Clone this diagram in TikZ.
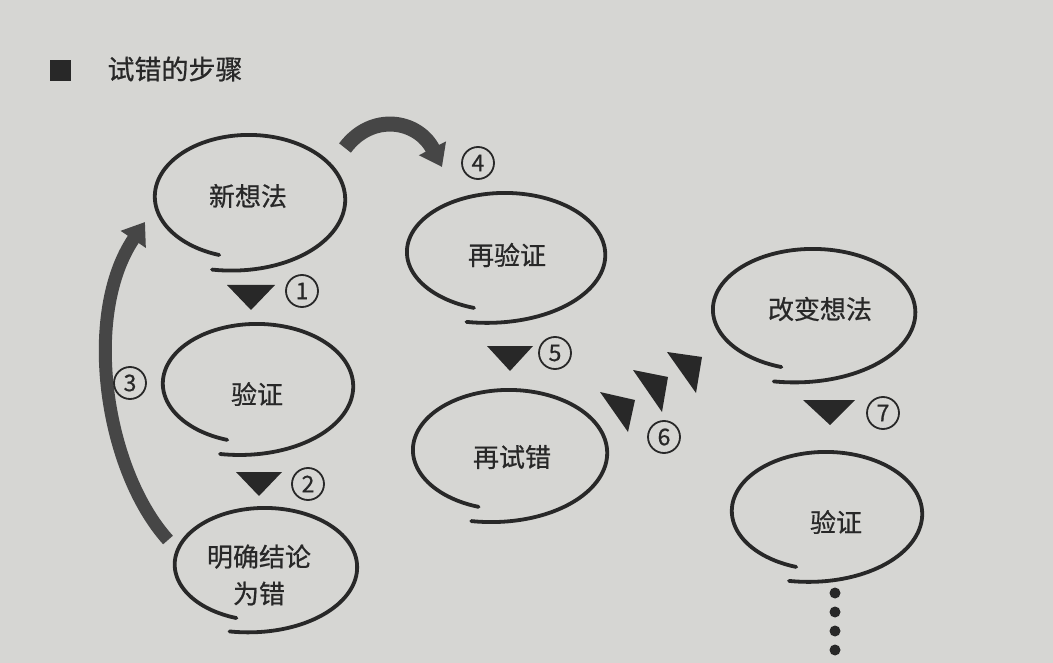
\documentclass[tikz,border=0pt]{standalone}
\usepackage{fontspec}
\setmainfont{Noto Sans CJK SC}
\newfontfamily\cjkheavy[FakeBold=0.7]{Noto Sans CJK SC}
\usepackage{tikz}
\usetikzlibrary{positioning,arrows.meta}

\definecolor{paper}{RGB}{214,214,211}
\definecolor{ink}{RGB}{40,40,40}
\definecolor{inkarrow}{RGB}{70,70,70}

% hand drawn loop: centre x, centre y, radius x, radius y
\newcommand{\loopring}[4]{%
    \draw[ring,shift={(#1,#2)}] plot[domain=0:360,samples=120,smooth,variable=\t]
    ({#3*(1+0.25*(\t/360)^5)*cos(108+\t)},{#4*(1+0.25*(\t/360)^5)*sin(108+\t)});%
}

\begin{document}
\begin{tikzpicture}[x=1pt,y=-1pt,
        ring/.style={ink,line width=3.8pt,line cap=round},
        txt/.style={text=ink,font=\cjkheavy\fontsize{26}{37}\selectfont,inner sep=0pt,align=center},
        num/.style={circle,draw=ink,line width=1.8pt,minimum size=32pt,inner sep=0pt,
            text=ink,font=\cjkheavy\fontsize{23}{23}\selectfont},
        wedge/.style={fill=ink},
        fat/.style={inkarrow,line width=#1,-{Triangle[width=29pt,length=21pt]}}
    ]
    \fill[paper] (0,0) rectangle (1053,663);
    \useasboundingbox (0,0) rectangle (1053,663);
    %
    % title
    \fill[ink] (50,60) rectangle (71,81);
    \node[txt,font=\cjkheavy\fontsize{27}{30}\selectfont] (Title) at (175,69) {试错的步骤};
    %
    % loops
    \loopring{248}{196.6}{93.2}{61.4}
    \loopring{504}{252}{97.1}{58.8}
    \loopring{256}{383.5}{93.2}{59.3}
    \loopring{508}{450}{95.1}{59.8}
    \loopring{264}{564.5}{89.3}{56.3}
    \loopring{812}{309.6}{99.1}{60.4}
    \loopring{825}{511}{93.2}{58.8}
    %
    \node[txt] (Idea) at (248,196) {新想法};
    \node[txt] (Recheck) at (507,255) {再验证};
    \node[txt] (Check) at (257,394) {验证};
    \node[txt] (Retry) at (512,457) {再试错};
    \node[txt] (Wrong) at (259,575) {明确结论\\为错};
    \node[txt] (Change) at (820,309) {改变想法};
    \node[txt] (Verify) at (836,522) {验证};
    %
    % steps
    \fill[wedge] (227,285) -- (275,285) -- (251,310) -- cycle;
    \node[num] (N1) at (302,291) {1};
    \fill[wedge] (236,472) -- (282,472) -- (259,496) -- cycle;
    \node[num] (N2) at (308,484) {2};
    \fill[wedge] (487,346) -- (533,346) -- (510,371) -- cycle;
    \node[num] (N5) at (555,353) {5};
    \fill[wedge] (600,392) -- (635,400) -- (628,432) -- cycle;
    \fill[wedge] (633,370) -- (668,377) -- (662,412) -- cycle;
    \fill[wedge] (667,352) -- (702,357) -- (696,393) -- cycle;
    \node[num] (N6) at (664,437) {6};
    \fill[wedge] (803,400) -- (855,400) -- (830,425) -- cycle;
    \node[num] (N7) at (883,413) {7};
    %
    % thick arrows
    \coordinate (WrongOut) at (168,540);
    \coordinate (IdeaIn) at (145,222);
    \draw[fat=13pt] (WrongOut) .. controls (105,470) and (82,315) .. (IdeaIn);
    \node[num] (N3) at (130,383) {3};
    \coordinate (IdeaOut) at (345,148);
    \coordinate (RecheckIn) at (442,167);
    \draw[fat=15pt] (IdeaOut) .. controls (372,112) and (418,120) .. (RecheckIn);
    \node[num] (N4) at (478,163) {4};
    %
    % more to come
    \foreach \y in {593,612,631,650}
    \fill[ink] (835,\y) circle (5.5);
\end{tikzpicture}
\end{document}
